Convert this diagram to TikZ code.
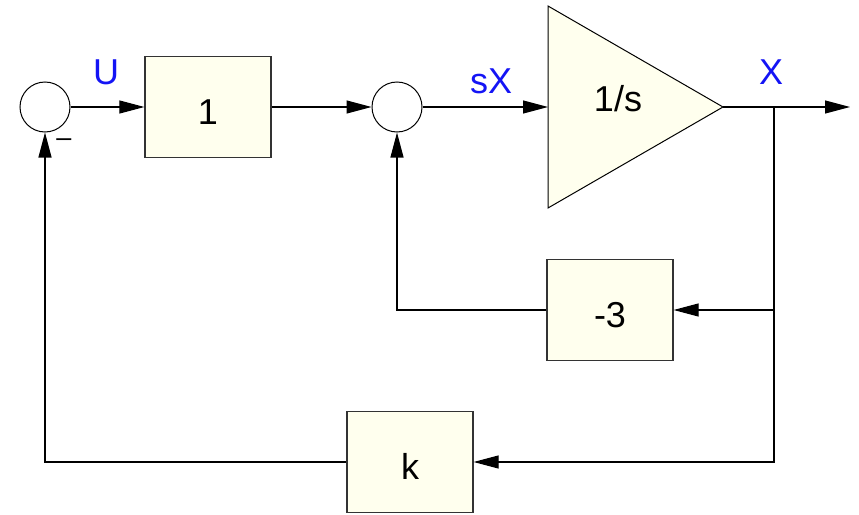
\documentclass[tikz,border=0pt]{standalone}
\usepackage{fontspec}
\setmainfont{Liberation Sans}
\usetikzlibrary{arrows.meta,positioning}
\definecolor{blockfill}{RGB}{255,255,238}
\definecolor{sigblue}{RGB}{20,20,245}
\tikzset{
  block/.style={draw=black!80,line width=1.2pt,fill=blockfill,minimum width=126pt,minimum height=101pt,inner sep=0pt,text height=34pt,text depth=0pt},
  sumpt/.style={draw,circle,minimum size=50pt,inner sep=0pt,line width=1pt},
  sig/.style={line width=1.1pt,-{Triangle[length=25pt,width=13pt]}},
  lbl/.style={text=sigblue}
}

\begin{document}
\begin{tikzpicture}[x=1pt,y=-1pt,font=\fontsize{36}{40}\selectfont]
  \useasboundingbox (0,0) rectangle (859,514);
  \node[sumpt] (sumA) at (45,107) {};
  \node[block] (gain) at (208,107) {1};
  \node[sumpt] (sumB) at (397,107) {};
  \coordinate (intIn) at (548,107);
  \coordinate (intOut) at (723,107);
  \draw[fill=blockfill,line width=1pt] (548,6) -- (intOut) -- (548,208) -- cycle;
  \node (integ) at (618,99) {1/s};
  \coordinate (tapX) at (774,107);
  \coordinate (outEnd) at (850,107);
  \node[block] (fbB) at (610,310) {-3};
  \node[block] (fbK) at (410,462) {k};
  % forward path
  \draw[sig] (sumA.east) -- (gain.west);
  \draw[sig] (gain.east) -- (sumB.west);
  \draw[sig] (sumB.east) -- (intIn);
  \draw[sig] (intOut) -- (outEnd);
  % feedback paths
  \draw[sig] (tapX) |- (fbB.east);
  \draw[sig] (tapX) |- (fbK.east);
  \draw[sig] (fbB.west) -| (sumB.south);
  \draw[sig] (fbK.west) -| (sumA.south);
  % signal names
  \node[lbl] (lblU) at (106,72) {U};
  \node[lbl] (lblSX) at (491,81) {sX};
  \node[lbl] (lblX) at (771,72) {X};
  \node[font=\fontsize{27}{29}\selectfont] (minus) at (64,143) {–};
\end{tikzpicture}
\end{document}
